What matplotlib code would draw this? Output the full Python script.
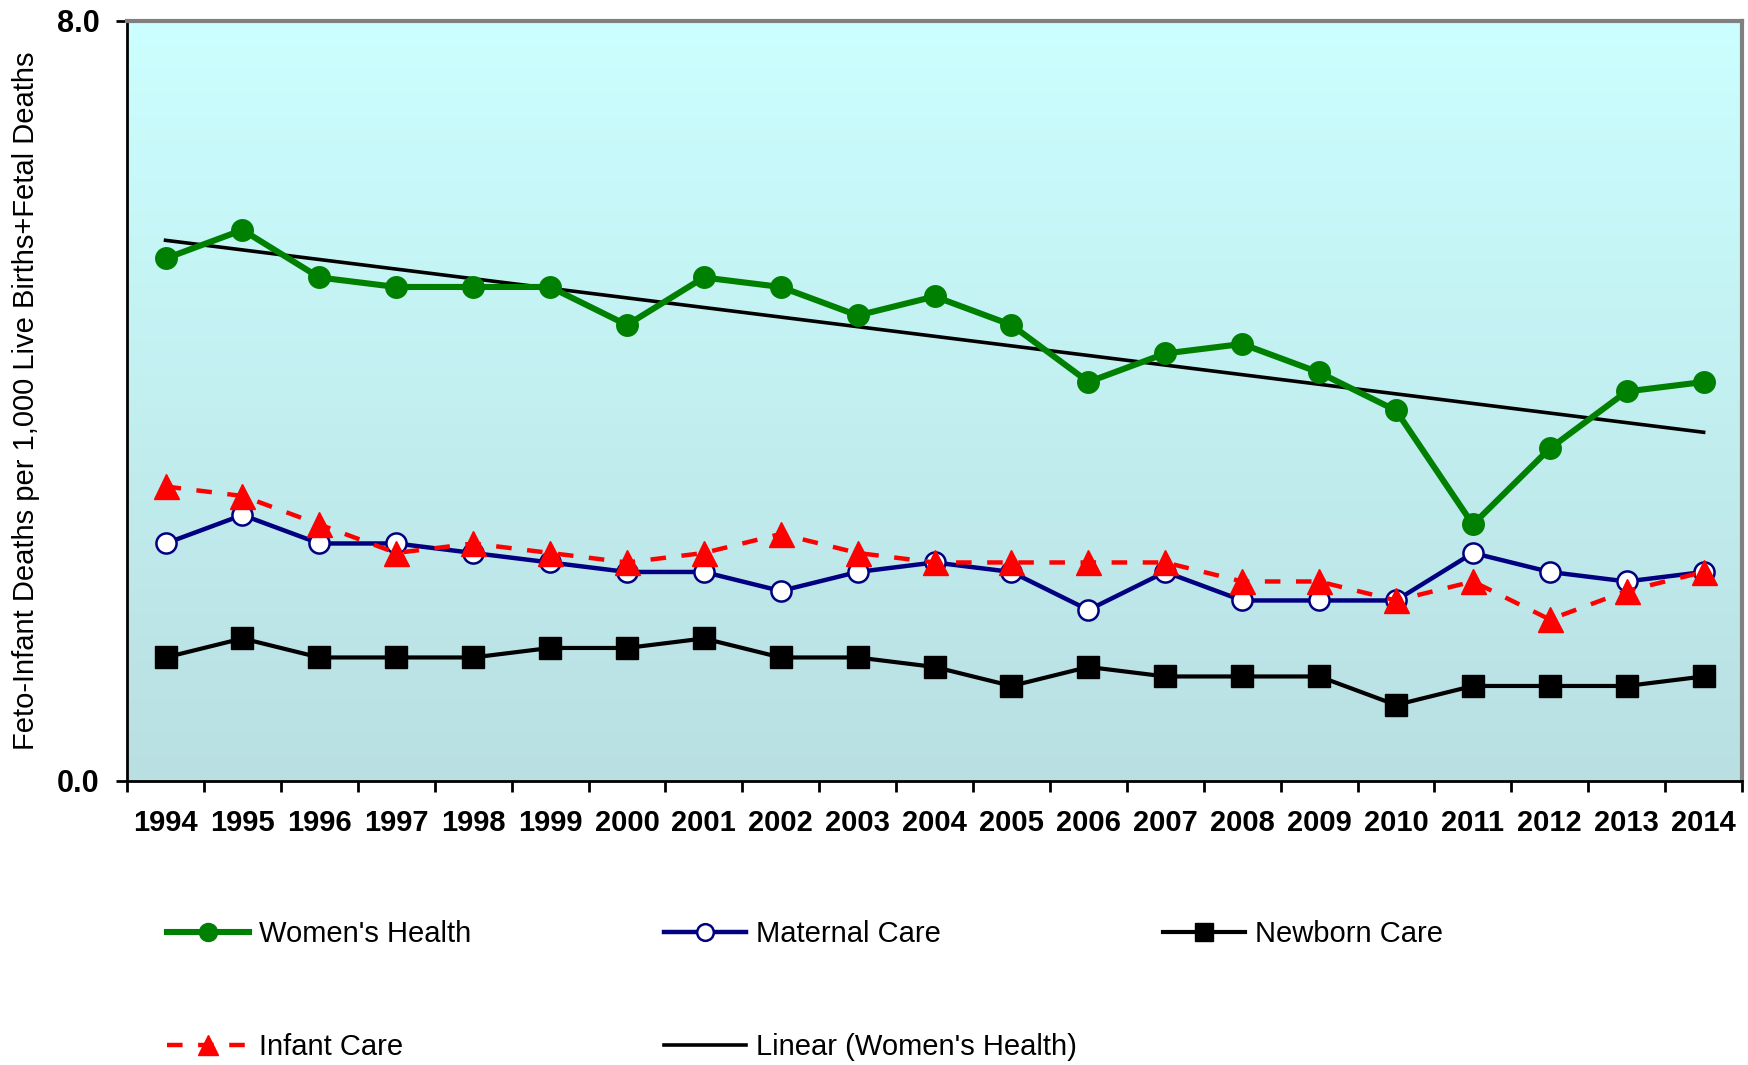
import numpy as np
import matplotlib.pyplot as plt
from matplotlib.lines import Line2D

years = [str(y) for y in range(1994, 2015)]
womens_health = [5.5, 5.8, 5.3, 5.2, 5.2, 5.2, 4.8, 5.3, 5.2, 4.9, 5.1,
                 4.8, 4.2, 4.5, 4.6, 4.3, 3.9, 2.7, 3.5, 4.1, 4.2]
maternal_care = [2.5, 2.8, 2.5, 2.5, 2.4, 2.3, 2.2, 2.2, 2.0, 2.2, 2.3,
                 2.2, 1.8, 2.2, 1.9, 1.9, 1.9, 2.4, 2.2, 2.1, 2.2]
newborn_care = [1.3, 1.5, 1.3, 1.3, 1.3, 1.4, 1.4, 1.5, 1.3, 1.3, 1.2,
                1.0, 1.2, 1.1, 1.1, 1.1, 0.8, 1.0, 1.0, 1.0, 1.1]
infant_care = [3.1, 3.0, 2.7, 2.4, 2.5, 2.4, 2.3, 2.4, 2.6, 2.4, 2.3,
               2.3, 2.3, 2.3, 2.1, 2.1, 1.9, 2.1, 1.7, 2.0, 2.2]

plt.rcParams['font.family'] = ['Liberation Sans', 'DejaVu Sans']

fig = plt.figure(figsize=(17.48, 10.65), dpi=100)
ax = fig.add_axes([0.0727, 0.2667, 0.9239, 0.7136])

x = np.arange(len(years))
ax.set_xlim(-0.5, len(years) - 0.5)
ax.set_ylim(0, 8)

# gradient fill behind the plot
grad = np.linspace(0, 1, 256)[:, None]
top = np.array([204, 255, 255]) / 255
bottom = np.array([185, 223, 226]) / 255
img = top * (1 - grad[..., None]) + bottom * grad[..., None]
img = np.repeat(img, 2, axis=1)
ax.imshow(img, aspect='auto', extent=(-0.5, len(years) - 0.5, 0, 8),
          origin='upper', zorder=0)

# trend line for women's health
coef = np.polyfit(x, womens_health, 1)
trend = np.polyval(coef, x)

ax.plot(x, trend, color='black', lw=2.6, zorder=2)
ax.plot(x, newborn_care, color='black', lw=3, marker='s', ms=15.5,
        zorder=3)
ax.plot(x, maternal_care, color='#000080', lw=3.2, marker='o', ms=14.5,
        mfc='white', mec='#000080', mew=1.8, zorder=4)
ax.plot(x, infant_care, color='red', lw=3.2, ls=(0, (3.5, 3.5)), marker='^',
        ms=18, mfc='red', mec='red', zorder=5)
ax.plot(x, womens_health, color='#008000', lw=4.4, marker='o', ms=15.5,
        zorder=6)

# axes styling
for s in ['top', 'right']:
    ax.spines[s].set_color('#808080')
    ax.spines[s].set_linewidth(3)
for s in ['left', 'bottom']:
    ax.spines[s].set_color('black')
    ax.spines[s].set_linewidth(2)

ax.set_yticks([0, 8])
ax.set_yticklabels(['0.0', '8.0'], fontsize=22, fontweight='bold')
ax.tick_params(axis='y', length=8, width=2, pad=12)

ax.set_xticks(x)
ax.set_xticklabels(years, fontsize=21, fontweight='bold')
ax.set_xticks(np.arange(-0.5, len(years)), minor=True)
ax.tick_params(axis='x', which='major', length=0, pad=20)
ax.tick_params(axis='x', which='minor', length=8, width=2)

ax.set_ylabel('Feto-Infant Deaths per 1,000 Live Births+Fetal Deaths',
              fontsize=21)
ax.yaxis.set_label_coords(-0.054, 0.5)

# legend entries laid out on a grid
entries = [
    (Line2D([], [], color='#008000', lw=4.4, marker='o', ms=13),
     "Women's Health", 0.0955, 0.123),
    (Line2D([], [], color='#000080', lw=3.2, marker='o', ms=12,
            mfc='white', mec='#000080', mew=1.8),
     'Maternal Care', 0.380, 0.123),
    (Line2D([], [], color='black', lw=3, marker='s', ms=13),
     'Newborn Care', 0.6655, 0.123),
    (Line2D([], [], color='red', lw=3.2, ls=(0, (3.5, 3.5)), marker='^',
            ms=15),
     'Infant Care', 0.0955, 0.017),
    (Line2D([], [], color='black', lw=2.6),
     "Linear (Women's Health)", 0.380, 0.017),
]
for handle, label, lx, ly in entries:
    fig.legend(handles=[handle], labels=[label], loc='center left',
               bbox_to_anchor=(lx, ly), frameon=False, fontsize=21,
               handlelength=2.8, handletextpad=0.35, borderpad=0,
               borderaxespad=0)

fig.savefig('out.png', dpi=100)
